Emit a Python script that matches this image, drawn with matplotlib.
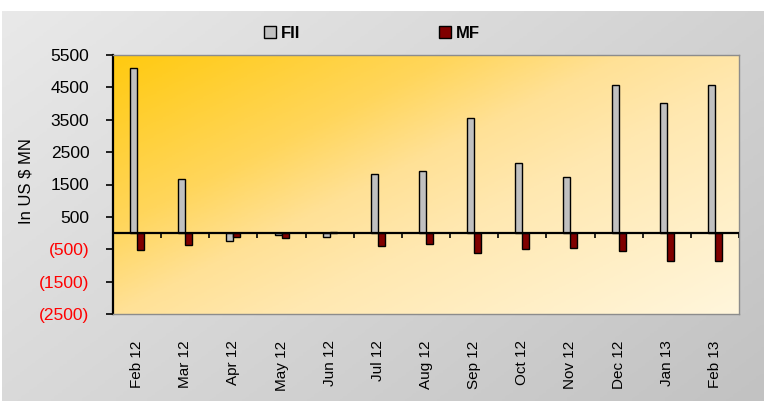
import numpy as np
import matplotlib.pyplot as plt
from matplotlib.colors import LinearSegmentedColormap
from matplotlib.patches import Patch

plt.rcParams['font.family'] = ['Liberation Sans', 'DejaVu Sans']

# values (US $ MN)
months = ["Feb 12", "Mar 12", "Apr 12", "May 12", "Jun 12", "Jul 12", "Aug 12",
          "Sep 12", "Oct 12", "Nov 12", "Dec 12", "Jan 13", "Feb 13"]
fii = [5100, 1670, -250, -50, -130, 1820, 1930, 3550, 2160, 1730, 4560, 4020, 4560]
mf = [-510, -370, -130, -140, 40, -390, -350, -620, -500, -450, -560, -860, -860]
y_ticks = [5500, 4500, 3500, 2500, 1500, 500, -500, -1500, -2500]

fig = plt.figure(figsize=(7.64, 4.01), dpi=100)

# grey gradient background of the chart area (white strip at the top)
bg = fig.add_axes([2 / 764, 0, 762 / 764, 390 / 401], zorder=-10)
gx, gy = np.meshgrid(np.linspace(0, 1, 200), np.linspace(0, 1, 200))
grey = LinearSegmentedColormap.from_list("g", ["#e9e9e9", "#c2c2c2"])
bg.imshow((gx * 0.6 + gy * 0.4), cmap=grey, aspect="auto", origin="upper",
          extent=[0, 1, 0, 1])
bg.axis("off")

ax = fig.add_axes([113 / 764, 87 / 401, 626 / 764, 259 / 401])
n = len(months)
x = np.arange(n)
w = 0.145

ax.set_xlim(-0.5, n - 0.5)
ax.set_ylim(-2500, 5500)

# yellow gradient plot area
px, py = np.meshgrid(np.linspace(0, 1, 200), np.linspace(0, 1, 200))
t = np.clip(px * 0.55 + py * 0.45, 0, 1)
gold = LinearSegmentedColormap.from_list(
    "y", [(0, "#ffca10"), (0.3, "#ffd65c"), (0.45, "#ffe196"),
          (0.6, "#ffe8b0"), (1, "#fff6dc")])
ax.imshow(t, cmap=gold, aspect="auto", origin="upper",
          extent=[-0.5, n - 0.5, -2500, 5500], zorder=0)

ax.bar(x - w / 2, fii, width=w, color="#c0c0c0", edgecolor="black", linewidth=1, zorder=3)
ax.bar(x + w / 2, mf, width=w, color="#800000", edgecolor="black", linewidth=1, zorder=3)

ax.axhline(0, color="black", linewidth=1.6, zorder=4)
ax.vlines(x[:-1] + 0.5, -150, 0, color="black", linewidth=1.2, zorder=4)
ax.vlines([n - 0.5], -150, 0, color="black", linewidth=1.2, zorder=4)

ax.set_xticks(x)
ax.set_xticklabels(months, rotation=90, fontsize=11)
ax.tick_params(axis="x", length=0, pad=19)

ax.set_yticks(y_ticks)
ax.set_yticklabels([f"({-v})" if v < 0 else str(v) for v in y_ticks], fontsize=12.5)
for lab, v in zip(ax.get_yticklabels(), y_ticks):
    if v < 0:
        lab.set_color("#ff0000")
ax.tick_params(axis="y", length=5, width=1.2, pad=12)

ax.spines["left"].set_linewidth(1.6)
for s in ["top", "right", "bottom"]:
    ax.spines[s].set_color("#8c8c8c")
    ax.spines[s].set_linewidth(1)

fig.text(26 / 764, 1 - 181 / 401, "In US $ MN", rotation=90, ha="center",
         va="center", fontsize=12)

handles = [Patch(facecolor="#c0c0c0", edgecolor="black", label="FII"),
           Patch(facecolor="#800000", edgecolor="black", label="MF")]
fig.legend(handles=handles, loc="center", bbox_to_anchor=(372 / 764, 1 - 33 / 401),
           ncol=2, frameon=False, handlelength=0.7, handleheight=0.7,
           handletextpad=0.3, columnspacing=8.3,
           prop={"weight": "bold", "size": 12})

fig.savefig("out.png", dpi=100)
